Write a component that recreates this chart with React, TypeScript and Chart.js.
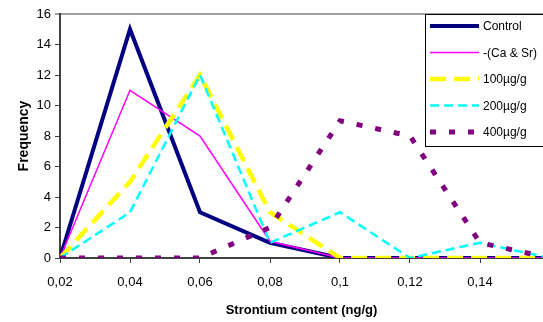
import React, { useEffect, useRef } from "react";
import { Chart, registerables } from "chart.js";

Chart.register(...registerables);

// ---- Data ----
const xValues = [0.02, 0.04, 0.06, 0.08, 0.1, 0.12, 0.14, 0.16];
const seriesLabels = ["Control", "-(Ca & Sr)", "100µg/g", "200µg/g", "400µg/g"];
const controlValues = [0, 15, 3, 1, 0, 0, 0, 0];
const minusCaSrValues = [0, 11, 8, 1.1, 0, 0, 0, 0];
const ug100Values = [0, 5, 12, 3, 0, 0, 0, 0];
const ug200Values = [0, 3, 12, 1, 3, 0, 1, 0];
const ug400Values = [0, 0, 0, 2, 9, 8, 1, 0];
const xTitle = "Strontium content (ng/g)";
const yTitle = "Frequency";

const FONT = '"Liberation Sans", Arial, sans-serif';

const toPoints = (vals: number[]) => vals.map((y, i) => ({ x: xValues[i], y }));

const legendPlugin = {
  id: "boxLegend",
  afterDraw(chart: any) {
    const ctx = chart.ctx as CanvasRenderingContext2D;
    const left = 425;
    const top = 14;
    const bottom = 146;
    ctx.save();
    ctx.fillStyle = "#ffffff";
    ctx.fillRect(left, top, 200, bottom - top);
    ctx.strokeStyle = "#000000";
    ctx.lineWidth = 1;
    ctx.strokeRect(left + 0.5, top + 0.5, 200, bottom - top);
    const dsets = chart.data.datasets;
    seriesLabels.forEach((label, i) => {
      const ds = dsets[i];
      const y = 26 + i * 26.5;
      ctx.beginPath();
      ctx.setLineDash(ds.borderDash || []);
      ctx.strokeStyle = ds.borderColor;
      ctx.lineWidth = ds.borderWidth;
      ctx.lineCap = "butt";
      ctx.moveTo(430, y);
      ctx.lineTo(479, y);
      ctx.stroke();
      ctx.setLineDash([]);
      ctx.fillStyle = "#000000";
      ctx.font = `12px ${FONT}`;
      ctx.textBaseline = "middle";
      ctx.textAlign = "left";
      ctx.fillText(label, 483, y + 1);
    });
    ctx.restore();
  },
};

export default function App() {
  const canvasRef = useRef<HTMLCanvasElement | null>(null);

  useEffect(() => {
    document.body.style.margin = "0";
    const canvas = canvasRef.current;
    if (!canvas) return;
    Chart.defaults.font.family = FONT;
    const chart = new Chart(canvas, {
      type: "line",
      data: {
        datasets: [
          {
            label: seriesLabels[0],
            data: toPoints(controlValues),
            borderColor: "#000080",
            borderWidth: 4,
            order: 5,
          },
          {
            label: seriesLabels[1],
            data: toPoints(minusCaSrValues),
            borderColor: "#ff00ff",
            borderWidth: 1.5,
            order: 4,
          },
          {
            label: seriesLabels[2],
            data: toPoints(ug100Values),
            borderColor: "#ffff00",
            borderWidth: 4.5,
            borderDash: [16, 8],
            order: 3,
          },
          {
            label: seriesLabels[3],
            data: toPoints(ug200Values),
            borderColor: "#00ffff",
            borderWidth: 2.5,
            borderDash: [9, 5],
            order: 2,
          },
          {
            label: seriesLabels[4],
            data: toPoints(ug400Values),
            borderColor: "#800080",
            borderWidth: 5,
            borderDash: [6, 13],
            order: 1,
          },
        ] as any,
      },
      options: {
        responsive: false,
        animation: false,
        devicePixelRatio: 1,
        layout: { padding: { top: 14, left: 0, right: 0, bottom: 0 } },
        elements: {
          point: { radius: 0, hoverRadius: 0 },
          line: { tension: 0, fill: false, borderCapStyle: "butt", borderJoinStyle: "miter" },
        },
        plugins: {
          legend: { display: false },
          tooltip: { enabled: false },
        },
        scales: {
          x: {
            type: "linear",
            min: 0.02,
            max: 0.158,
            ticks: {
              stepSize: 0.02,
              includeBounds: false,
              autoSkip: false,
              maxRotation: 0,
              color: "#000",
              font: { size: 13, family: FONT },
              padding: 12,
              callback: (v: any) => Number(Number(v).toFixed(2)).toString().replace(".", ","),
            },
            grid: {
              drawOnChartArea: false,
              tickLength: 5,
              tickColor: "#404040",
              tickWidth: 1,
            },
            border: { color: "#404040", width: 2 },
            title: {
              display: true,
              text: xTitle,
              color: "#000",
              font: { size: 13, weight: "bold", family: FONT },
            },
            afterFit: (s: any) => {
              s.height = 64;
            },
          } as any,
          y: {
            min: 0,
            max: 16,
            ticks: {
              stepSize: 2,
              color: "#000",
              font: { size: 13, family: FONT },
              padding: 4,
            },
            grid: {
              color: (c: any) => (c.tick && c.tick.value === 16 ? "#a0a0a0" : "rgba(0,0,0,0)"),
              lineWidth: (c: any) => (c.tick && c.tick.value === 16 ? 2 : 1),
              tickLength: 5,
              tickColor: "#404040",
              tickWidth: 1,
            },
            border: { color: "#404040", width: 2 },
            title: {
              display: true,
              text: yTitle,
              color: "#000",
              font: { size: 14, weight: "bold", family: FONT },
              padding: { top: 16, bottom: 0 },
            },
            afterFit: (s: any) => {
              s.width = 60;
            },
          } as any,
        },
      },
      plugins: [legendPlugin],
    });
    return () => chart.destroy();
  }, []);

  return (
    <div style={{ position: "fixed", left: 0, top: 0, width: 543, height: 322, overflow: "hidden", background: "#fff" }}>
      <canvas ref={canvasRef} width={543} height={322} style={{ display: "block" }} />
    </div>
  );
}
